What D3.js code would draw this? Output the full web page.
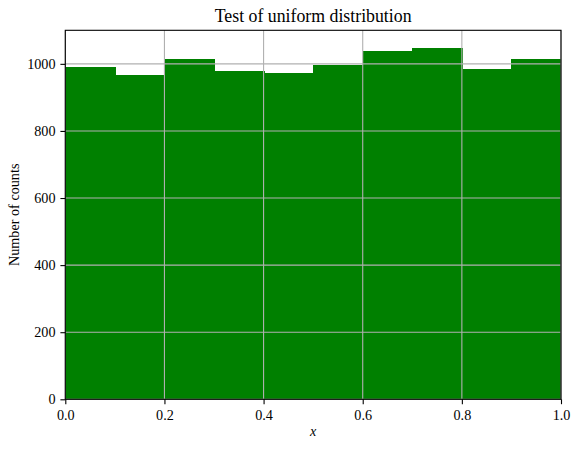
<!DOCTYPE html>
<html>
<head>
<meta charset="utf-8">
<script src="https://cdn.jsdelivr.net/npm/d3@7"></script>
<style>
  body { margin: 0; background: #fff; }
  svg { display: block; font-family: "Liberation Serif", "DejaVu Serif", serif; }
</style>
</head>
<body>
<script>
// histogram bins (10 equal bins on [0, 1]) and their counts
var binEdges = [0.0, 0.1, 0.2, 0.3, 0.4, 0.5, 0.6, 0.7, 0.8, 0.9, 1.0];
var counts = [992, 968, 1013, 980, 974, 998, 1037, 1046, 986, 1013];
var xTicks = [0.0, 0.2, 0.4, 0.6, 0.8, 1.0];
var yTicks = [0, 200, 400, 600, 800, 1000];

var svgWidth = 580, svgHeight = 449;
var margin = { top: 30.3, right: 19, bottom: 49.7, left: 65.3 };
var width = svgWidth - margin.left - margin.right;
var height = svgHeight - margin.top - margin.bottom;

var svg = d3.select("body").append("svg")
  .attr("width", svgWidth)
  .attr("height", svgHeight);

var chart = svg.append("g")
  .attr("transform", `translate(${margin.left}, ${margin.top})`);

var x = d3.scaleLinear().domain([0, 1]).range([0, width]);
var y = d3.scaleLinear().domain([0, 1100]).range([height, 0]);

var bins = counts.map(function(c, i) {
  return { x0: binEdges[i], x1: binEdges[i + 1], count: c };
});

// bars (slight overlap so no seams show between neighbours)
chart.selectAll("rect.bar")
  .data(bins)
  .enter()
  .append("rect")
  .attr("class", "bar")
  .attr("x", d => x(d.x0))
  .attr("width", (d, i) => x(d.x1) - x(d.x0) + (i < bins.length - 1 ? 1 : 0))
  .attr("y", d => y(d.count))
  .attr("height", d => y(0) - y(d.count))
  .attr("fill", "#008000")
  .attr("shape-rendering", "crispEdges");

// grid (drawn over the bars)
chart.append("g").selectAll("line")
  .data(xTicks)
  .enter()
  .append("line")
  .attr("x1", d => x(d)).attr("x2", d => x(d))
  .attr("y1", 0).attr("y2", height)
  .attr("stroke", "#b0b0b0")
  .attr("stroke-width", 1.1);

chart.append("g").selectAll("line")
  .data(yTicks)
  .enter()
  .append("line")
  .attr("x1", 0).attr("x2", width)
  .attr("y1", d => y(d)).attr("y2", d => y(d))
  .attr("stroke", "#b0b0b0")
  .attr("stroke-width", 1.1);

// axes
var bottomAxis = d3.axisBottom(x).tickValues(xTicks)
  .tickFormat(d3.format(".1f")).tickSizeInner(4.9).tickSizeOuter(0).tickPadding(4.9);
var leftAxis = d3.axisLeft(y).tickValues(yTicks)
  .tickFormat(d3.format("d")).tickSizeInner(4.9).tickSizeOuter(0).tickPadding(4.9);

var gx = chart.append("g")
  .attr("transform", `translate(0, ${height})`)
  .call(bottomAxis);
var gy = chart.append("g").call(leftAxis);

[gx, gy].forEach(function(g) {
  g.select(".domain").remove();
  g.selectAll(".tick line").attr("stroke", "#000").attr("stroke-width", 1.1);
  g.selectAll(".tick text")
    .attr("fill", "#000")
    .style("font-size", "14.2px")
    .style("font-family", "'Liberation Serif', serif");
});
gx.selectAll(".tick text").attr("dy", "0.75em");

// frame
chart.append("rect")
  .attr("x", 0).attr("y", 0)
  .attr("width", width).attr("height", height)
  .attr("fill", "none")
  .attr("stroke", "#000")
  .attr("stroke-width", 1.1);

// title and labels
svg.append("text")
  .attr("x", margin.left + width / 2)
  .attr("y", 22)
  .attr("text-anchor", "middle")
  .style("font-size", "17.8px")
  .text("Test of uniform distribution");

svg.append("text")
  .attr("x", margin.left + width / 2)
  .attr("y", 436)
  .attr("text-anchor", "middle")
  .style("font-size", "14.2px")
  .style("font-style", "italic")
  .text("x");

svg.append("text")
  .attr("transform", `translate(19, ${margin.top + height / 2}) rotate(-90)`)
  .attr("text-anchor", "middle")
  .style("font-size", "14.2px")
  .text("Number of counts");
</script>
</body>
</html>
